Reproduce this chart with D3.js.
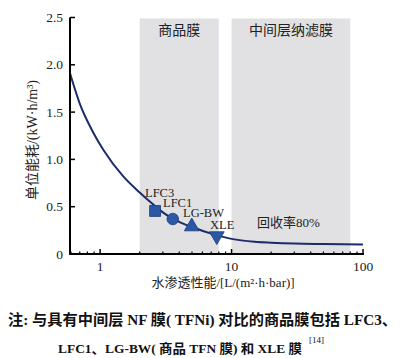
<!DOCTYPE html>
<html><head><meta charset="utf-8">
<script src="https://cdn.jsdelivr.net/npm/d3@7"></script>
<style>
html,body{margin:0;padding:0;background:#fff;}
svg{display:block;}
</style></head>
<body>
<svg id="c" width="408" height="358"></svg>
<script>
// ---- data ----
const curveX = [0.59, 0.7, 0.89, 1.06, 1.5, 2.0, 2.5, 3.0, 4.0, 5.0, 7.0, 10, 15, 20, 30, 50, 100];
const curveY = [1.91, 1.59, 1.28, 1.10, 0.82, 0.65, 0.53, 0.44, 0.34, 0.285, 0.215, 0.16, 0.13, 0.12, 0.11, 0.105, 0.10];
const membranes = ["LFC3", "LFC1", "LG-BW", "XLE"];
const memX = [2.62, 3.57, 4.98, 7.72];
const memY = [0.455, 0.37, 0.29, 0.19];
const memShape = ["square", "circle", "triangle", "invtriangle"];
const regionNames = ["商品膜", "中间层纳滤膜"];
const regionX0 = [2, 10];
const regionX1 = [8, 80];
const regionTop = 2.49;
const xTicks = [1, 10, 100];
const xTickLabels = ["1", "10", "100"];
const yTicks = [0, 0.5, 1.0, 1.5, 2.0, 2.5];
const yTickLabels = ["0", "0.5", "1.0", "1.5", "2.0", "2.5"];
const recoveryLabel = "回收率80%";

const svg = d3.select("#c");
const serif = "'Liberation Serif','Times New Roman','Noto Sans CJK SC',serif";
const x = d3.scaleLog().domain([0.59, 100]).range([70, 363]);
const y = d3.scaleLinear().domain([0, 2.5]).range([254, 17.5]);

// shaded regions
regionNames.forEach((n, i) => {
  svg.append("rect")
    .attr("x", x(regionX0[i])).attr("width", x(regionX1[i]) - x(regionX0[i]))
    .attr("y", y(regionTop)).attr("height", y(0) - y(regionTop))
    .attr("fill", "#e1e1e3");
  svg.append("text")
    .attr("x", (x(regionX0[i]) + x(regionX1[i])) / 2).attr("y", 35)
    .attr("text-anchor", "middle").attr("font-family", serif).attr("font-size", 14)
    .attr("fill", "#222").text(n);
});

// curve
const pts = curveX.map((v, i) => [v, curveY[i]]);
svg.append("path").datum(pts)
  .attr("d", d3.line().x(d => x(d[0])).y(d => y(d[1])).curve(d3.curveMonotoneX))
  .attr("fill", "none").attr("stroke", "#1d2b6c").attr("stroke-width", 2);

// markers
const mcol = "#2a58a4";
membranes.forEach((m, i) => {
  const cx = x(memX[i]), cy = y(memY[i]);
  let sym;
  if (memShape[i] === "square") sym = d3.symbol().type(d3.symbolSquare).size(120);
  else if (memShape[i] === "circle") sym = d3.symbol().type(d3.symbolCircle).size(105);
  else sym = d3.symbol().type(d3.symbolTriangle).size(95);
  const rot = memShape[i] === "invtriangle" ? 180 : 0;
  svg.append("path").attr("d", sym())
    .attr("transform", `translate(${cx},${cy}) rotate(${rot})`)
    .attr("fill", mcol).attr("stroke", "#1d3a7a").attr("stroke-width", 0.8);
});
// marker labels
const labelPos = [[145, 196.5], [163, 207], [183, 217], [210, 228.5]];
membranes.forEach((m, i) => {
  svg.append("text").attr("x", labelPos[i][0]).attr("y", labelPos[i][1])
    .attr("font-family", serif).attr("font-size", 12.5).attr("fill", "#222").text(m);
});
svg.append("text").attr("x", 257).attr("y", 227).attr("font-family", serif)
  .attr("font-size", 13).attr("fill", "#222").text(recoveryLabel);

// axes
const minor = [0.6,0.7,0.8,0.9,2,3,4,5,6,7,8,9,20,30,40,50,60,70,80,90];
const gx = svg.append("g");
minor.forEach(v => gx.append("line").attr("x1", x(v)).attr("x2", x(v))
  .attr("y1", y(0)).attr("y2", y(0) - 2.5).attr("stroke", "#000").attr("stroke-width", 1.2));
xTicks.forEach((v, i) => {
  gx.append("line").attr("x1", x(v)).attr("x2", x(v)).attr("y1", y(0)).attr("y2", y(0) - 5)
    .attr("stroke", "#000").attr("stroke-width", 1.5);
  gx.append("text").attr("x", x(v)).attr("y", 271).attr("text-anchor", "middle")
    .attr("font-family", serif).attr("font-size", 13.5).attr("fill", "#222").text(xTickLabels[i]);
});
yTicks.forEach((v, i) => {
  svg.append("line").attr("x1", 70).attr("x2", 75).attr("y1", y(v)).attr("y2", y(v))
    .attr("stroke", "#000").attr("stroke-width", 1.5);
  svg.append("text").attr("x", 63).attr("y", y(v) + 4.5).attr("text-anchor", "end")
    .attr("font-family", serif).attr("font-size", 13.5).attr("fill", "#222").text(yTickLabels[i]);
});
svg.append("line").attr("x1", 70).attr("x2", 70).attr("y1", y(2.5)).attr("y2", y(0) + 1)
  .attr("stroke", "#000").attr("stroke-width", 2);
svg.append("line").attr("x1", 69).attr("x2", 364).attr("y1", y(0)).attr("y2", y(0))
  .attr("stroke", "#000").attr("stroke-width", 2);

// axis titles
svg.append("text").attr("x", 223).attr("y", 287).attr("text-anchor", "middle")
  .attr("font-family", serif).attr("font-size", 13).attr("fill", "#222")
  .text("水渗透性能/[L/(m²·h·bar)]");
svg.append("text").attr("transform", "translate(37,140) rotate(-90)").attr("text-anchor", "middle")
  .attr("font-family", serif).attr("font-size", 14).attr("fill", "#222")
  .text("单位能耗/(kW·h/m³)");

// caption
svg.append("text").attr("x", 8).attr("y", 325).attr("font-family", serif)
  .attr("font-size", 15).attr("font-weight", "bold").attr("fill", "#111")
  .attr("textLength", 389).attr("lengthAdjust", "spacingAndGlyphs")
  .text("注: 与具有中间层 NF 膜( TFNi) 对比的商品膜包括 LFC3、");
svg.append("text").attr("x", 58).attr("y", 353).attr("font-family", serif)
  .attr("font-size", 13).attr("font-weight", "bold").attr("fill", "#111")
  .attr("textLength", 244).attr("lengthAdjust", "spacingAndGlyphs")
  .text("LFC1、LG-BW( 商品 TFN 膜) 和 XLE 膜");
svg.append("text").attr("x", 309).attr("y", 343).attr("font-family", serif)
  .attr("font-size", 9).attr("fill", "#111").text("[14]");
</script>
</body></html>
